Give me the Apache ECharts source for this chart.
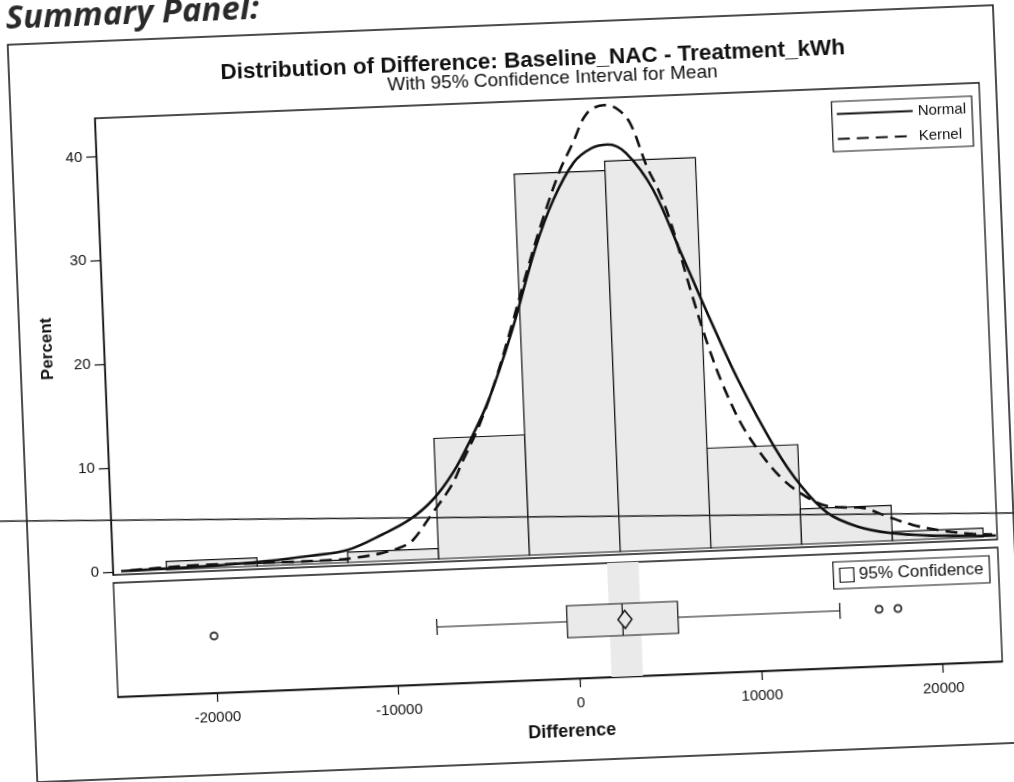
<!DOCTYPE html>
<html>
<head>
<meta charset="utf-8">
<script src="https://cdn.jsdelivr.net/npm/echarts@6/dist/echarts.min.js"></script>
<style>
  html, body { margin: 0; padding: 0; background: #fff; overflow: hidden; width: 1014px; height: 782px; }
  #page { position: absolute; left: -43px; top: -39px; width: 1100px; height: 860px;
          transform: rotate(-2.3deg); transform-origin: 50% 50%; }
</style>
</head>
<body>
<div id="page"></div>
<script>
// Histogram of the difference (percent of observations per 5000-wide bin)
const binCenters = [-20000, -15000, -10000, -5000, 0, 5000, 10000, 15000, 20000];
const binPercent = [0.8, 0.25, 1.0, 11.6, 36.7, 37.6, 9.6, 3.4, 0.85];
const binWidth = 5000;

// Fitted normal density (percent scale)
const normalX = [-25000, -20000, -17000, -14500, -12500, -10500, -9000, -7700, -6500, -5500, -4400, -3000, -1500, -400, 800, 1800, 2700, 3700, 5100, 6500, 8000, 9350, 11200, 12600, 14000, 15600, 17400, 19500, 22000, 23200];
const normalY = [0.05, 0.2, 0.45, 0.8, 1.2, 2.6, 3.9, 5.7, 8.3, 11.3, 15.1, 21.5, 29.5, 34.1, 37.6, 38.9, 39.2, 38.3, 34.7, 28.5, 21.8, 16.1, 9.5, 5.6, 2.9, 1.5, 0.74, 0.35, 0.15, 0.1];

// Kernel density estimate (percent scale)
const kernelX = [-24500, -23000, -20600, -18000, -15500, -13300, -12000, -10550, -9500, -8880, -7800, -6600, -6000, -5000, -4000, -3000, -2000, -1000, 0, 800, 1640, 2600, 3300, 3980, 4820, 5380, 6000, 7000, 7800, 8520, 9500, 10560, 11500, 12520, 13750, 14800, 15950, 17200, 18660, 20300, 21940, 23000];
const kernelY = [0.1, 0.2, 0.33, 0.3, 0.28, 0.3, 0.45, 0.8, 1.3, 1.9, 4.3, 7.1, 9.2, 12.6, 16.9, 22.0, 27.4, 32.4, 36.8, 39.5, 42.3, 43.0, 42.6, 41.2, 36.9, 34.7, 31.5, 24.5, 19.4, 15.6, 11.6, 8.6, 6.5, 4.95, 3.7, 3.4, 3.26, 2.4, 1.43, 0.75, 0.33, 0.2];

// Box plot summary: [min whisker, Q1, median, Q3, max whisker], plus mean and outliers
const boxStats = [-7750, -580, 2480, 5530, 14450];
const boxMean = 2610;
const outliers = [-20030, 16610, 17650];
// 95% confidence interval for the mean
const ciBounds = [1750, 3480];

// Axis ranges and tick labels
const xRange = [-25450, 23270];
const xTicks = [-20000, -10000, 0, 10000, 20000];
const yRange = [-0.29, 43.7];
const yTicks = [0, 10, 20, 30, 40];

const INK = '#111';
const FILL = '#eaeaea';
const FONT = '"Liberation Sans", Arial, sans-serif';

const zip = (a, b) => a.map((v, i) => [v, b[i]]);

function renderBar(params, api) {
  const c = api.value(0), h = api.value(1);
  const p0 = api.coord([c - binWidth / 2, h]);
  const p1 = api.coord([c + binWidth / 2, 0]);
  return {
    type: 'rect',
    shape: { x: p0[0], y: p0[1], width: p1[0] - p0[0], height: p1[1] - p0[1] },
    style: { fill: FILL, stroke: INK, lineWidth: 1.2 }
  };
}

function renderBand(params, api) {
  const a = api.coord([api.value(0), 1]);
  const b = api.coord([api.value(1), 0]);
  return {
    type: 'rect',
    shape: { x: a[0], y: a[1], width: b[0] - a[0], height: b[1] - a[1] },
    style: { fill: FILL }
  };
}

function renderBox(params, api) {
  const yc = api.coord([0, 0.5])[1];
  const px = v => api.coord([v, 0.5])[0];
  const xMin = px(api.value(0)), xQ1 = px(api.value(1)), xMed = px(api.value(2));
  const xQ3 = px(api.value(3)), xMax = px(api.value(4)), xMean = px(api.value(5));
  const half = 16, cap = 8;
  const ls = { stroke: INK, lineWidth: 1.2 };
  return {
    type: 'group',
    children: [
      { type: 'line', shape: { x1: xMin, y1: yc, x2: xQ1, y2: yc }, style: ls },
      { type: 'line', shape: { x1: xQ3, y1: yc, x2: xMax, y2: yc }, style: ls },
      { type: 'line', shape: { x1: xMin, y1: yc - cap, x2: xMin, y2: yc + cap }, style: ls },
      { type: 'line', shape: { x1: xMax, y1: yc - cap, x2: xMax, y2: yc + cap }, style: ls },
      { type: 'rect', shape: { x: xQ1, y: yc - half, width: xQ3 - xQ1, height: 2 * half },
        style: { fill: FILL, stroke: INK, lineWidth: 1.2 } },
      { type: 'line', shape: { x1: xMed, y1: yc - half, x2: xMed, y2: yc + half }, style: ls },
      { type: 'polygon',
        shape: { points: [[xMean - 7, yc], [xMean, yc - 9], [xMean + 7, yc], [xMean, yc + 9]] },
        style: { fill: FILL, stroke: INK, lineWidth: 1.4 } }
    ]
  };
}

const plainLabel = v => String(v);

const chart = echarts.init(document.getElementById('page'), null, { renderer: 'canvas' });

chart.setOption({
  backgroundColor: '#fff',
  animation: false,
  textStyle: { fontFamily: FONT, color: INK },
  graphic: [
    { type: 'text', left: 64, top: 22,
      style: { text: 'Summary Panel:', font: 'italic bold 33px "Open Sans", "Noto Sans", sans-serif', fill: '#2a2a2a' } },
    { type: 'rect', shape: { x: 65, y: 64, width: 986, height: 738 },
      style: { fill: 'none', stroke: INK, lineWidth: 1.5 } },
    { type: 'text', x: 589, y: 101, z: 10,
      style: { text: 'Distribution of Difference: Baseline_NAC - Treatment_kWh',
               font: 'bold 22.5px ' + FONT, fill: INK, align: 'center', verticalAlign: 'middle' } },
    { type: 'text', x: 608, y: 120, z: 10,
      style: { text: 'With 95% Confidence Interval for Mean',
               font: '19px ' + FONT, fill: INK, align: 'center', verticalAlign: 'middle' } },
    { type: 'line', z: 100, shape: { x1: 0, y1: 538.4, x2: 1100, y2: 573.8 },
      style: { stroke: '#222', lineWidth: 1.5 } }
  ],
  grid: [
    { left: 149, top: 141, width: 885, height: 457, show: true, borderColor: INK, borderWidth: 1.3 },
    { left: 149, top: 606, width: 885, height: 114, show: true, borderColor: INK, borderWidth: 1.3 }
  ],
  xAxis: [
    { type: 'value', gridIndex: 0, min: xRange[0], max: xRange[1],
      axisLine: { show: false, onZero: false }, axisTick: { show: false }, axisLabel: { show: false }, splitLine: { show: false } },
    { type: 'value', gridIndex: 1, min: xRange[0], max: xRange[1],
      name: 'Difference', nameLocation: 'middle', nameGap: 44,
      nameTextStyle: { fontFamily: FONT, fontWeight: 'bold', fontSize: 18, color: INK, padding: [0, 0, 0, 20] },
      axisLine: { show: true, onZero: false, lineStyle: { color: INK, width: 1.3 } },
      axisTick: { show: true, length: 9, customValues: xTicks, lineStyle: { color: INK, width: 1.2 } },
      axisLabel: { customValues: xTicks, formatter: plainLabel, margin: 17, fontSize: 15, color: INK, fontFamily: FONT },
      splitLine: { show: false } }
  ],
  yAxis: [
    { type: 'value', gridIndex: 0, min: yRange[0], max: yRange[1],
      name: 'Percent', nameLocation: 'middle', nameGap: 48, nameRotate: 90,
      nameTextStyle: { fontFamily: FONT, fontWeight: 'bold', fontSize: 17, color: INK },
      axisLine: { show: true, onZero: false, lineStyle: { color: INK, width: 1.3 } },
      axisTick: { show: true, length: 10, customValues: yTicks, lineStyle: { color: INK, width: 1.2 } },
      axisLabel: { customValues: yTicks, formatter: plainLabel, margin: 14, fontSize: 15, color: INK, fontFamily: FONT },
      splitLine: { show: false } },
    { type: 'value', gridIndex: 1, min: 0, max: 1, show: false }
  ],
  legend: [
    { data: ['Normal', 'Kernel'], orient: 'vertical', right: 74, top: 154,
      selectedMode: false, itemWidth: 76, itemHeight: 14, itemGap: 10,
      itemStyle: { opacity: 0 },
      padding: [5, 6, 5, 4], borderColor: INK, borderWidth: 1.2, backgroundColor: '#fff',
      textStyle: { fontSize: 15, color: INK, fontFamily: FONT } },
    { data: [{ name: '95% Confidence', icon: 'rect',
               itemStyle: { color: '#fff', borderColor: INK, borderWidth: 1.2 } }],
      orient: 'horizontal', right: 75, top: 614, selectedMode: false,
      itemWidth: 14, itemHeight: 14, padding: [5, 6, 5, 6],
      borderColor: INK, borderWidth: 1.2, backgroundColor: '#fff',
      textStyle: { fontSize: 17, color: INK, fontFamily: FONT } }
  ],
  series: [
    { name: 'Histogram', type: 'custom', xAxisIndex: 0, yAxisIndex: 0, z: 2,
      renderItem: renderBar, data: zip(binCenters, binPercent) },
    { name: 'Normal', type: 'line', xAxisIndex: 0, yAxisIndex: 0, z: 5,
      data: zip(normalX, normalY), smooth: 0.35, symbol: 'none',
      itemStyle: { color: INK }, lineStyle: { color: INK, width: 2.6, type: 'solid' } },
    { name: 'Kernel', type: 'line', xAxisIndex: 0, yAxisIndex: 0, z: 5,
      data: zip(kernelX, kernelY), smooth: 0.35, symbol: 'none',
      itemStyle: { color: INK }, lineStyle: { color: INK, width: 2.6, type: [12, 7] } },
    { name: '95% Confidence', type: 'custom', xAxisIndex: 1, yAxisIndex: 1, z: 1,
      itemStyle: { color: FILL }, renderItem: renderBand, data: [ciBounds] },
    { name: 'Box', type: 'custom', xAxisIndex: 1, yAxisIndex: 1, z: 3,
      renderItem: renderBox, data: [[...boxStats, boxMean]] },
    { name: 'Outliers', type: 'scatter', xAxisIndex: 1, yAxisIndex: 1, z: 4,
      symbol: 'emptyCircle', symbolSize: 7,
      itemStyle: { color: INK, borderColor: INK, borderWidth: 1.5 },
      data: outliers.map(v => [v, 0.5]) }
  ]
});
</script>
</body>
</html>
